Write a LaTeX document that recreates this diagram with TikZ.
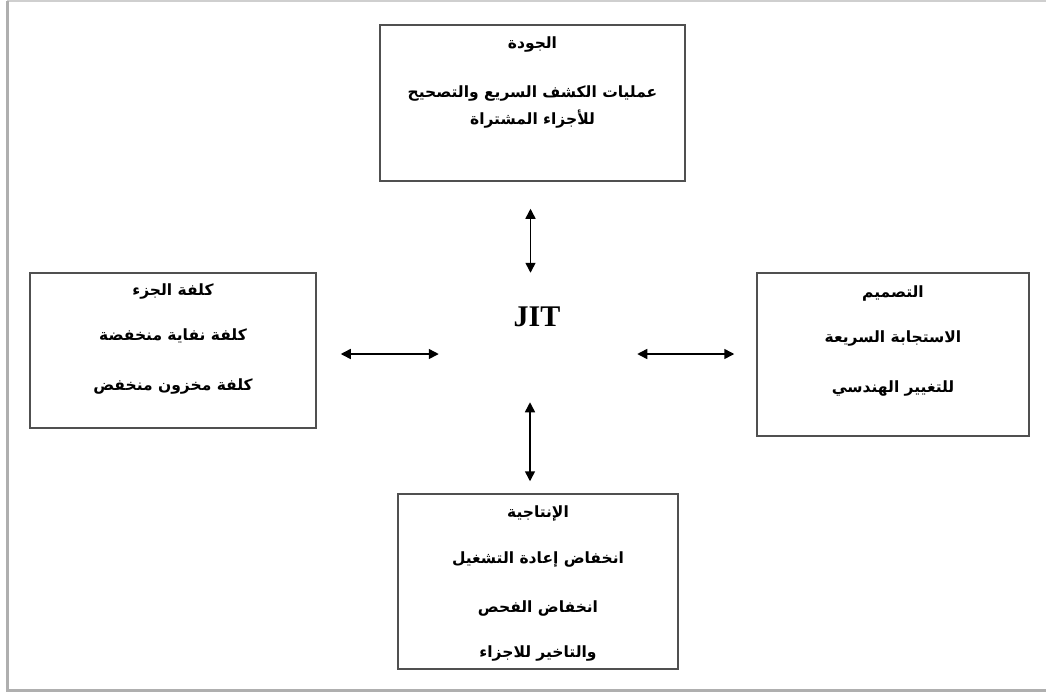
\documentclass[tikz,border=0pt]{standalone}
\usepackage{fontspec}
\setmainfont{Liberation Serif}
\newfontfamily\arabicfont[Script=Arabic]{DejaVu Sans}
\TeXXeTstate=1
\usetikzlibrary{arrows.meta, positioning, calc}
\definecolor{framegray}{RGB}{80,80,80}
\definecolor{shadowgray}{RGB}{175,175,175}
\newcommand{\artext}[1]{{\arabicfont\bfseries\beginR #1\endR}}
\tikzset{
  panel/.style={rectangle, draw=framegray, line width=1.5pt, inner sep=0pt},
  paneltext/.style={align=center, anchor=north, inner sep=0pt,
              font=\fontsize{15.5}{18}\selectfont},
  link/.style={{Triangle[length=10pt,width=10pt]}-{Triangle[length=10pt,width=10pt]}, line width=1.5pt},
}

\begin{document}
\begin{tikzpicture}[x=1pt, y=-1pt]
    \useasboundingbox (0,0) rectangle (1046,697);
    % page frame
    \draw[shadowgray!60, line width=1.5pt] (7,1) -- (1046,1);
    \draw[shadowgray, line width=3pt] (7,1) -- (7,690) -- (1046,690);

    \node[panel, minimum width=305, minimum height=156] (quality) at (532.5,103) {};
    \node[panel, minimum width=286, minimum height=155] (cost) at (173,350.5) {};
    \node[panel, minimum width=272, minimum height=163] (design) at (893,354.5) {};
    \node[panel, minimum width=280, minimum height=175] (prod) at (538,581.5) {};

    \node[paneltext] (qualitytxt) at ($(quality.north)+(0,12)$)
        {\artext{الجودة}\\[31pt]\artext{عمليات الكشف السريع والتصحيح}\\[8pt]\artext{للأجزاء المشتراة}};
    \node[paneltext] (costtxt) at ($(cost.north)+(0,11)$)
        {\artext{كلفة الجزء}\\[27pt]\artext{كلفة نفاية منخفضة}\\[32pt]\artext{كلفة مخزون منخفض}};
    \node[paneltext] (designtxt) at ($(design.north)+(0,13)$)
        {\artext{التصميم}\\[27pt]\artext{الاستجابة السريعة}\\[32pt]\artext{للتغيير الهندسي}};
    \node[paneltext] (prodtxt) at ($(prod.north)+(0,12)$)
        {\artext{الإنتاجية}\\[28pt]\artext{انخفاض إعادة التشغيل}\\[31pt]\artext{انخفاض الفحص}\\[27pt]\artext{والتاخير للاجزاء}};

    \node[font=\fontsize{30}{33}\selectfont\bfseries] (jit) at (537,317) {JIT};

    \draw[link] ($(quality.south)+(-2,27)$) -- ($(quality.south)+(-2,91)$);
    \draw[link] ($(prod.north)+(-8,-12)$) -- ($(prod.north)+(-8,-91)$);
    \draw[link] ($(cost.east)+(24,3.5)$) -- ($(cost.east)+(122,3.5)$);
    \draw[link] ($(design.west)+(-119,-0.5)$) -- ($(design.west)+(-22,-0.5)$);
\end{tikzpicture}
\end{document}
